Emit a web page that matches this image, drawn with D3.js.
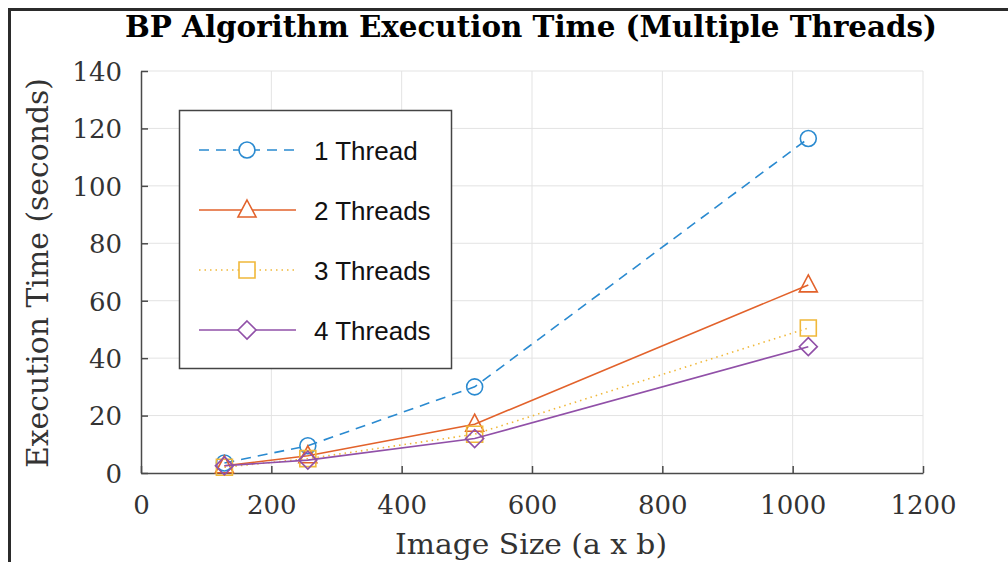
<!DOCTYPE html>
<html>
<head>
<script src="https://d3js.org/d3.v7.min.js"></script>
<style>
body { margin: 0; background: #fff; }
</style>
</head>
<body>
<svg id="chart" width="1008" height="562"></svg>
<script>
// image sizes (a x b)
const imageSizes = [128, 256, 512, 1024];
const oneThread = [3.5, 9.5, 30, 116.5];
const twoThreads = [2.5, 6, 17, 65.5];
const threeThreads = [2, 5, 13.5, 50.5];
const fourThreads = [2.5, 4.5, 12, 44];
const seriesNames = ["1 Thread", "2 Threads", "3 Threads", "4 Threads"];
const xTicks = [0, 200, 400, 600, 800, 1000, 1200];
const yTicks = [0, 20, 40, 60, 80, 100, 120, 140];

const series = [
  {name: seriesNames[0], values: oneThread, color: "#2a8ad0", dash: "10,7", marker: "circle"},
  {name: seriesNames[1], values: twoThreads, color: "#e2622b", dash: null, marker: "triangle"},
  {name: seriesNames[2], values: threeThreads, color: "#f0b83a", dash: "1.5,4", marker: "square"},
  {name: seriesNames[3], values: fourThreads, color: "#9150a8", dash: null, marker: "diamond"}
];

const svg = d3.select("#chart");
const plotLeft = 141, plotRight = 923, plotTop = 71, plotBottom = 473;

const x = d3.scaleLinear().domain([0, 1200]).range([plotLeft, plotRight]);
const y = d3.scaleLinear().domain([0, 140]).range([plotBottom, plotTop]);

// outer frame
svg.append("path")
   .attr("d", "M9.5,562 L9.5,9.5 L1008,9.5")
   .attr("fill", "none")
   .attr("stroke", "#2b2b2b")
   .attr("stroke-width", 3);

// title
svg.append("text")
   .attr("x", 531).attr("y", 37)
   .attr("text-anchor", "middle")
   .attr("font-family", "DejaVu Serif Condensed, DejaVu Serif")
   .attr("font-weight", "bold")
   .attr("font-size", 29)
   .attr("textLength", 812)
   .attr("lengthAdjust", "spacingAndGlyphs")
   .attr("fill", "#000")
   .text("BP Algorithm Execution Time (Multiple Threads)");

// grid
const grid = svg.append("g");
grid.selectAll("line.gx").data(xTicks.slice(1)).join("line")
    .attr("x1", d => x(d)).attr("x2", d => x(d))
    .attr("y1", plotBottom).attr("y2", plotTop)
    .attr("stroke", "#e3e3e3").attr("stroke-width", 1);
grid.selectAll("line.gy").data(yTicks.slice(1)).join("line")
    .attr("x1", plotLeft).attr("x2", plotRight)
    .attr("y1", d => y(d)).attr("y2", d => y(d))
    .attr("stroke", "#e3e3e3").attr("stroke-width", 1);

// axes
const xAxis = svg.append("g")
   .attr("transform", "translate(0," + plotBottom + ")")
   .call(d3.axisBottom(x).tickValues(xTicks).tickFormat(d3.format("d"))
           .tickSizeInner(-7).tickSizeOuter(0).tickPadding(22));
const yAxis = svg.append("g")
   .attr("transform", "translate(" + plotLeft + ",0)")
   .call(d3.axisLeft(y).tickValues(yTicks).tickFormat(d3.format("d"))
           .tickSizeInner(-7).tickSizeOuter(0).tickPadding(19));

[xAxis, yAxis].forEach(a => {
  a.select(".domain").attr("stroke", "#4a4a4a").attr("stroke-width", 1.5);
  a.selectAll(".tick line").attr("stroke", "#4a4a4a").attr("stroke-width", 1.5);
  a.selectAll(".tick text")
   .attr("font-family", "DejaVu Serif")
   .attr("font-size", 26)
   .attr("fill", "#333");
});
yAxis.selectAll(".tick text").attr("dy", "0.36em");
xAxis.selectAll(".tick text").attr("dy", "0.72em");

// axis labels
svg.append("text")
   .attr("x", 531).attr("y", 554)
   .attr("text-anchor", "middle")
   .attr("font-family", "DejaVu Serif")
   .attr("font-size", 28)
   .attr("textLength", 272)
   .attr("lengthAdjust", "spacingAndGlyphs")
   .attr("fill", "#333")
   .text("Image Size (a x b)");
svg.append("text")
   .attr("transform", "translate(48,273) rotate(-90)")
   .attr("text-anchor", "middle")
   .attr("font-family", "DejaVu Serif")
   .attr("font-size", 29)
   .attr("textLength", 390)
   .attr("lengthAdjust", "spacingAndGlyphs")
   .attr("fill", "#333")
   .text("Execution Time (seconds)");

function markerPath(type) {
  if (type == "circle") return d3.symbol().type(d3.symbolCircle).size(200)();
  if (type == "triangle") return "M0,-10 L9,7 L-9,7 Z";
  if (type == "square") return "M-8,-8 L8,-8 L8,8 L-8,8 Z";
  return "M0,-9 L9,0 L0,9 L-9,0 Z";
}

const line = d3.line().x((d, i) => x(imageSizes[i])).y(d => y(d));
const plot = svg.append("g");

series.forEach(s => {
  plot.append("path")
      .attr("d", line(s.values))
      .attr("fill", "none")
      .attr("stroke", s.color)
      .attr("stroke-width", 1.6)
      .attr("stroke-dasharray", s.dash);
  plot.selectAll(null).data(s.values).join("path")
      .attr("transform", (d, i) => "translate(" + x(imageSizes[i]) + "," + y(d) + ")")
      .attr("d", markerPath(s.marker))
      .attr("fill", "none")
      .attr("stroke", s.color)
      .attr("stroke-width", 1.6);
});

// legend
const legend = svg.append("g");
legend.append("rect")
      .attr("x", 179.5).attr("y", 110.5)
      .attr("width", 272).attr("height", 258)
      .attr("fill", "#fff")
      .attr("stroke", "#444").attr("stroke-width", 1.5);

const rows = legend.selectAll("g.row").data(series).join("g")
      .attr("class", "row")
      .attr("transform", (d, i) => "translate(0," + (150 + i * 60) + ")");
rows.append("line")
    .attr("x1", 199).attr("x2", 296).attr("y1", 0).attr("y2", 0)
    .attr("stroke", d => d.color).attr("stroke-width", 1.6)
    .attr("stroke-dasharray", d => d.dash);
rows.append("path")
    .attr("transform", "translate(247,0)")
    .attr("d", d => markerPath(d.marker))
    .attr("fill", "#fff")
    .attr("stroke", d => d.color).attr("stroke-width", 1.6);
rows.append("text")
    .attr("x", 314).attr("y", 1).attr("dy", "0.36em")
    .attr("font-family", "Liberation Sans, Arial, sans-serif")
    .attr("font-size", 26)
    .attr("fill", "#111")
    .text(d => d.name);
</script>
</body>
</html>
